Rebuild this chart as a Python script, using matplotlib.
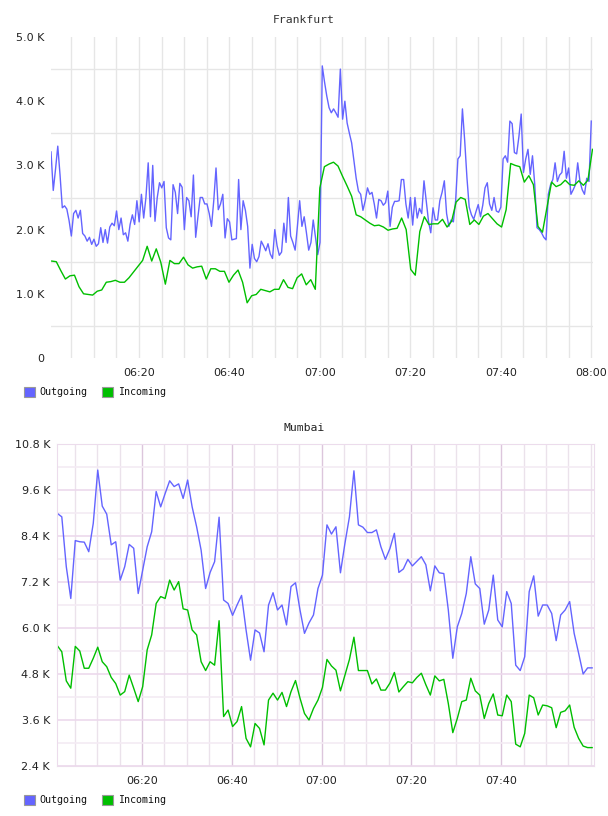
import matplotlib
matplotlib.use("Agg")
import matplotlib.pyplot as plt
import matplotlib.dates as mdates
from matplotlib.patches import Rectangle
from matplotlib.ticker import FixedLocator, FuncFormatter
import pandas as pd

BLUE = "#6464ff"
GREEN = "#00bf00"
DAY = "2024-01-01 "

# ── Frankfurt (values in K) ──
fra_out_first, fra_out_last = "06:00:32", "08:00:01"   # one sample every ~30 s
fra_out = [
    3.21, 2.61, 2.94, 3.30, 2.85, 2.34, 2.37, 2.32, 2.14, 1.90,
    2.25, 2.30, 2.18, 2.30, 1.94, 1.90, 1.82, 1.88, 1.77, 1.85,
    1.74, 1.78, 2.03, 1.80, 2.00, 1.79, 2.04, 2.10, 2.06, 2.29,
    2.00, 2.18, 1.92, 1.95, 1.82, 2.08, 2.23, 2.08, 2.45, 2.12,
    2.55, 2.18, 2.50, 3.04, 2.20, 3.00, 2.13, 2.50, 2.73, 2.65,
    2.75, 2.03, 1.87, 1.84, 2.70, 2.58, 2.25, 2.72, 2.66, 2.00,
    2.50, 2.45, 2.20, 2.85, 1.88, 2.20, 2.50, 2.50, 2.40, 2.40,
    2.25, 2.05, 2.45, 2.96, 2.31, 2.40, 2.55, 1.87, 2.17, 2.12,
    1.84, 1.85, 1.86, 2.78, 2.00, 2.45, 2.30, 2.05, 1.40, 1.77,
    1.55, 1.50, 1.58, 1.82, 1.75, 1.67, 1.78, 1.62, 1.55, 2.00,
    1.75, 1.60, 1.65, 2.10, 1.80, 2.50, 1.90, 1.80, 1.68, 2.05,
    2.45, 2.05, 2.20, 1.95, 1.68, 1.80, 2.15, 1.88, 1.61, 1.80,
    4.55, 4.30, 4.08, 3.90, 3.82, 3.88, 3.82, 3.75, 4.50, 3.72,
    4.00, 3.66, 3.50, 3.35, 3.07, 2.80, 2.60, 2.55, 2.30, 2.45,
    2.65, 2.55, 2.58, 2.40, 2.18, 2.47, 2.45, 2.38, 2.42, 2.60,
    2.05, 2.35, 2.44, 2.44, 2.45, 2.78, 2.78, 2.40, 2.18, 2.50,
    2.07, 2.50, 2.18, 2.33, 2.25, 2.76, 2.45, 2.13, 1.95, 2.34,
    2.15, 2.15, 2.45, 2.58, 2.76, 2.25, 2.05, 2.15, 2.12, 2.45,
    3.10, 3.15, 3.88, 3.39, 2.81, 2.35, 2.23, 2.16, 2.28, 2.39,
    2.20, 2.38, 2.65, 2.73, 2.40, 2.30, 2.50, 2.29, 2.27, 2.35,
    3.10, 3.15, 3.05, 3.69, 3.65, 3.20, 3.18, 3.45, 3.80, 2.89,
    3.10, 3.25, 2.86, 3.15, 2.70, 2.03, 2.00, 1.95, 1.88, 1.84,
    2.55, 2.70, 2.78, 3.04, 2.75, 2.85, 2.89, 3.22, 2.80, 2.96,
    2.55, 2.62, 2.70, 3.04, 2.75, 2.62, 2.55, 2.80, 2.75, 3.69,
]
fra_in_first, fra_in_last = "06:00:42", "08:00:17"     # one sample per minute
fra_in = [
    1.51, 1.50, 1.36, 1.23, 1.28, 1.29, 1.11, 1.00, 0.99, 0.98,
    1.04, 1.06, 1.18, 1.19, 1.21, 1.18, 1.18, 1.25, 1.34, 1.43,
    1.52, 1.74, 1.51, 1.70, 1.49, 1.15, 1.52, 1.47, 1.47, 1.57,
    1.45, 1.40, 1.42, 1.43, 1.23, 1.39, 1.39, 1.35, 1.35, 1.18,
    1.29, 1.37, 1.18, 0.86, 0.97, 0.99, 1.07, 1.05, 1.03, 1.07,
    1.07, 1.22, 1.10, 1.08, 1.25, 1.31, 1.14, 1.22, 1.07, 2.65,
    2.98, 3.02, 3.05, 2.99, 2.83, 2.68, 2.52, 2.23, 2.20, 2.15,
    2.10, 2.06, 2.07, 2.04, 1.99, 2.01, 2.02, 2.18, 2.00, 1.38,
    1.29, 1.97, 2.20, 2.08, 2.09, 2.09, 2.16, 2.04, 2.13, 2.43,
    2.50, 2.47, 2.08, 2.15, 2.08, 2.21, 2.25, 2.17, 2.09, 2.04,
    2.31, 3.03, 3.00, 2.98, 2.74, 2.84, 2.70, 2.05, 1.96, 2.35,
    2.74, 2.67, 2.70, 2.77, 2.70, 2.69, 2.76, 2.69, 2.77, 3.25,
]

# ── Mumbai (values in K) ──
bom_first, bom_last = "06:01:08", "08:00:17"           # one sample per minute
bom_out = [
    8.99, 8.90, 7.60, 6.77, 8.28, 8.25, 8.24, 7.99, 8.73, 10.12,
    9.18, 8.97, 8.17, 8.25, 7.25, 7.60, 8.18, 8.08, 6.90, 7.51,
    8.12, 8.51, 9.56, 9.16, 9.51, 9.84, 9.69, 9.76, 9.38, 9.86,
    9.16, 8.64, 8.03, 7.03, 7.45, 7.73, 8.89, 6.73, 6.64, 6.33,
    6.60, 6.85, 5.95, 5.16, 5.95, 5.87, 5.38, 6.60, 6.92, 6.47,
    6.60, 6.08, 7.08, 7.18, 6.47, 5.86, 6.13, 6.34, 7.03, 7.38,
    8.69, 8.45, 8.64, 7.44, 8.21, 8.90, 10.10, 8.69, 8.63, 8.49,
    8.49, 8.56, 8.12, 7.79, 8.07, 8.47, 7.45, 7.54, 7.79, 7.62,
    7.74, 7.86, 7.65, 6.97, 7.62, 7.44, 7.42, 6.47, 5.21, 6.03,
    6.38, 6.90, 7.86, 7.15, 7.03, 6.10, 6.47, 7.38, 6.21, 6.03,
    6.95, 6.64, 5.03, 4.89, 5.25, 6.95, 7.36, 6.31, 6.60, 6.60,
    6.38, 5.67, 6.34, 6.47, 6.69, 5.86, 5.34, 4.80, 4.96, 4.96,
]
bom_in = [
    5.54, 5.38, 4.62, 4.43, 5.52, 5.40, 4.95, 4.95, 5.21, 5.50,
    5.12, 4.99, 4.71, 4.55, 4.25, 4.34, 4.77, 4.43, 4.08, 4.47,
    5.43, 5.82, 6.64, 6.82, 6.77, 7.25, 6.99, 7.21, 6.50, 6.47,
    5.95, 5.82, 5.12, 4.89, 5.12, 5.03, 6.19, 3.69, 3.86, 3.43,
    3.56, 3.95, 3.12, 2.90, 3.51, 3.38, 2.95, 4.12, 4.30, 4.12,
    4.32, 3.95, 4.34, 4.63, 4.17, 3.77, 3.60, 3.90, 4.12, 4.45,
    5.18, 5.01, 4.90, 4.36, 4.77, 5.18, 5.76, 4.89, 4.89, 4.89,
    4.54, 4.67, 4.38, 4.38, 4.56, 4.84, 4.33, 4.47, 4.60, 4.57,
    4.71, 4.82, 4.52, 4.25, 4.75, 4.62, 4.66, 4.03, 3.27, 3.64,
    4.08, 4.12, 4.69, 4.36, 4.25, 3.64, 4.03, 4.28, 3.73, 3.71,
    4.25, 4.08, 2.97, 2.90, 3.25, 4.25, 4.18, 3.73, 3.99, 3.97,
    3.92, 3.40, 3.80, 3.84, 3.99, 3.41, 3.12, 2.92, 2.88, 2.88,
]

fra_yticks = [0, 1, 2, 3, 4, 5]
fra_ygrid = [0.5, 1.5, 2.5, 3.5, 4.5]
bom_yticks = [2.4, 3.6, 4.8, 6.0, 7.2, 8.4, 9.6, 10.8]
bom_ygrid = [3.0, 4.2, 5.4, 6.6, 7.8, 9.0, 10.2]
bom_xticks = ["06:20", "06:40", "07:00", "07:20", "07:40"]


def times(first, last, n):
    return pd.date_range(DAY + first, DAY + last, periods=n)


def kfmt(v, pos):
    return "0" if v == 0 else f"{v:.1f} K"


plt.rcParams["font.family"] = "DejaVu Sans"
fig = plt.figure(figsize=(6.08, 8.16), dpi=100)
W, H = 608, 816

# ── Frankfurt ──
ax1 = fig.add_axes([51/W, 1-358/H, 542/W, 321/H])
ax1.plot(times(fra_out_first, fra_out_last, len(fra_out)), fra_out, color=BLUE, lw=1.0)
ax1.plot(times(fra_in_first, fra_in_last, len(fra_in)), fra_in, color=GREEN, lw=1.0)
ax1.set_xlim(pd.Timestamp(DAY + "06:00:32"), pd.Timestamp(DAY + "08:00:24"))
ax1.set_ylim(0, 5)
ax1.yaxis.set_major_locator(FixedLocator(fra_yticks))
ax1.yaxis.set_minor_locator(FixedLocator(fra_ygrid))
ax1.yaxis.set_major_formatter(FuncFormatter(kfmt))
ax1.xaxis.set_major_locator(mdates.MinuteLocator(byminute=[0, 20, 40]))
ax1.xaxis.set_minor_locator(mdates.MinuteLocator(byminute=range(0, 60, 5)))
ax1.xaxis.set_major_formatter(mdates.DateFormatter("%H:%M"))
ax1.grid(True, which="minor", axis="y", color="#e6e6e6", lw=1)
ax1.grid(True, which="both", axis="x", color="#e6e6e6", lw=1)
for s in ax1.spines.values():
    s.set_visible(False)
ax1.tick_params(which="both", length=0, labelsize=8, colors="#222222")
ax1.tick_params(axis="y", pad=5)
ax1.tick_params(axis="x", pad=7)
ax1.set_axisbelow(True)

# ── Mumbai ──
ax2 = fig.add_axes([57/W, 1-766/H, 537/W, 322/H])
bt = times(bom_first, bom_last, len(bom_out))
ax2.plot(bt, bom_out, color=BLUE, lw=1.0)
ax2.plot(bt, bom_in, color=GREEN, lw=1.0)
ax2.set_xlim(pd.Timestamp(DAY + "06:01:04"), pd.Timestamp(DAY + "08:00:42"))
ax2.set_ylim(2.4, 10.8)
ax2.yaxis.set_major_locator(FixedLocator(bom_yticks))
ax2.yaxis.set_minor_locator(FixedLocator(bom_ygrid))
ax2.yaxis.set_major_formatter(FuncFormatter(kfmt))
ax2.xaxis.set_major_locator(FixedLocator(mdates.date2num(pd.to_datetime([DAY + t for t in bom_xticks]))))
ax2.xaxis.set_minor_locator(mdates.MinuteLocator(byminute=range(0, 60, 5)))
ax2.xaxis.set_major_formatter(mdates.DateFormatter("%H:%M"))
ax2.grid(True, which="major", axis="y", color="#ecd9ec", lw=1.2)
ax2.grid(True, which="minor", axis="y", color="#f4ebf4", lw=1.2)
ax2.grid(True, which="major", axis="x", color="#dcc6dc", lw=1)
ax2.grid(True, which="minor", axis="x", color="#ebe2eb", lw=1)
for s in ax2.spines.values():
    s.set_color("#ecdcec")
ax2.tick_params(which="both", length=0, labelsize=8, colors="#222222")
ax2.tick_params(axis="y", pad=5)
ax2.tick_params(axis="x", pad=7)
ax2.set_axisbelow(True)

# ── titles and legends ──
fig.text(0.5, 1-20/H, "Frankfurt", ha="center", va="center", fontsize=8.2,
         family="DejaVu Sans Mono", color="#333333")
fig.text(0.5, 1-428/H, "Mumbai", ha="center", va="center", fontsize=8.2,
         family="DejaVu Sans Mono", color="#222222")

for ly in (392, 800):
    for lx, tx, col, lab in [(24, 39, BLUE, "Outgoing"), (102, 118, GREEN, "Incoming")]:
        fig.patches.append(Rectangle((lx/W, 1-(ly+5)/H), 11/W, 10/H, transform=fig.transFigure,
                                     facecolor=col, edgecolor="#999999", lw=0.8))
        fig.text(tx/W, 1-ly/H, lab, ha="left", va="center", fontsize=7.2,
                 family="DejaVu Sans Mono", color="#111111")

plt.savefig("out.png", dpi=100)
